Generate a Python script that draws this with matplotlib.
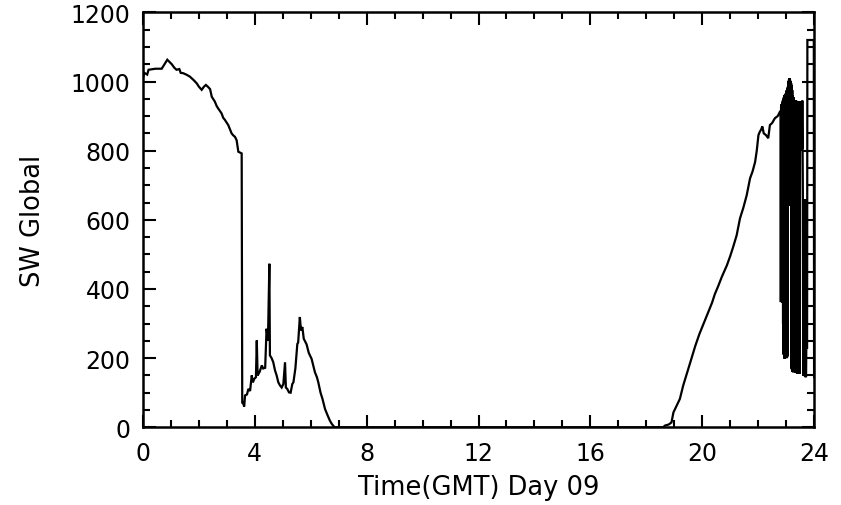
import matplotlib
matplotlib.use("Agg")
import matplotlib.pyplot as plt
from matplotlib.ticker import MultipleLocator

# Time (hours GMT) and SW Global values
time_morning = [0.00, 0.05, 0.15, 0.20, 0.45, 0.67, 0.87, 1.03, 1.12, 1.20, 1.30, 1.35,
                1.44, 1.55, 1.68, 1.80, 1.92, 2.00, 2.10, 2.18, 2.25, 2.32, 2.40, 2.46,
                2.57, 2.63, 2.69, 2.81, 2.87, 2.93, 3.00, 3.05, 3.17, 3.22, 3.29, 3.35,
                3.41, 3.53]
sw_morning = [1010, 1025, 1020, 1034, 1037, 1037, 1063, 1050, 1040, 1034, 1036, 1025,
              1024, 1020, 1014, 1005, 995, 985, 976, 985, 990, 985, 978, 956,
              942, 930, 922, 908, 895, 889, 880, 874, 850, 845, 840, 830,
              797, 792]

time_cloudy = [3.55, 3.57, 3.62, 3.65, 3.72, 3.77, 3.83, 3.89, 3.93, 3.98, 4.04, 4.07,
               4.10, 4.17, 4.25, 4.30, 4.37, 4.42, 4.47, 4.52, 4.54, 4.60, 4.66, 4.72,
               4.78, 4.84, 4.90, 4.96, 5.02, 5.08, 5.11, 5.16, 5.22, 5.28, 5.34, 5.38,
               5.45, 5.52, 5.55, 5.61, 5.65, 5.70, 5.75, 5.85, 5.93, 6.03, 6.10, 6.15,
               6.22, 6.27, 6.35, 6.42, 6.51, 6.60, 6.68, 6.75, 6.85]
sw_cloudy = [72, 72, 60, 92, 95, 111, 105, 150, 130, 140, 145, 251,
             150, 160, 179, 170, 172, 285, 250, 473, 208, 200, 188, 165,
             150, 130, 121, 115, 125, 188, 115, 111, 101, 100, 125, 130,
             170, 241, 245, 319, 280, 290, 256, 240, 215, 198, 175, 159,
             145, 130, 100, 82, 53, 35, 20, 10, 0]

time_night = [18.60]
sw_night = [0]

time_rise = [18.67, 18.80, 18.90, 18.97, 19.09, 19.20, 19.32, 19.45, 19.60, 19.75,
             19.90, 20.05, 20.20, 20.35, 20.45, 20.58, 20.70, 20.88, 21.00, 21.10,
             21.23, 21.35, 21.47, 21.59, 21.71, 21.80, 21.89, 21.95, 22.01, 22.06,
             22.10, 22.15, 22.20, 22.28, 22.36, 22.42, 22.50, 22.60, 22.70, 22.78]
sw_rise = [5, 8, 14, 43, 63, 82, 121, 155, 195, 235,
           270, 300, 330, 360, 385, 410, 435, 468, 495, 520,
           555, 604, 635, 671, 720, 740, 767, 800, 845, 855,
           860, 870, 850, 845, 836, 874, 880, 894, 900, 913]

time_broken = [22.80, 22.81, 22.82, 22.83, 22.84, 22.85, 22.86, 22.87, 22.88, 22.89,
               22.90, 22.91, 22.92, 22.93, 22.94, 22.95, 22.96, 22.97, 22.98, 22.99,
               23.00, 23.01, 23.02, 23.03, 23.04, 23.05, 23.06, 23.07, 23.08, 23.09,
               23.10, 23.11, 23.12, 23.13, 23.14, 23.15, 23.16, 23.17, 23.18, 23.19,
               23.20, 23.21, 23.22, 23.23, 23.24, 23.25, 23.26, 23.27, 23.28, 23.29,
               23.30, 23.31, 23.32, 23.33, 23.34, 23.35, 23.36, 23.37, 23.38, 23.39,
               23.40, 23.41, 23.42, 23.43, 23.44, 23.45, 23.46, 23.47, 23.48, 23.49,
               23.50, 23.51, 23.52, 23.53, 23.54, 23.55, 23.56, 23.57, 23.58, 23.59,
               23.60, 23.61, 23.62, 23.63, 23.64, 23.65, 23.66, 23.67, 23.68, 23.69,
               23.70, 23.71, 23.72, 23.75, 23.76, 23.99, 24.00]
sw_broken = [913, 362, 930, 370, 935, 365, 940, 360, 945, 300,
             950, 210, 955, 200, 960, 198, 962, 200, 965, 205,
             971, 210, 975, 200, 980, 205, 985, 640, 1000, 640,
             1005, 640, 1010, 640, 1005, 640, 1000, 640, 995, 170,
             990, 165, 975, 160, 960, 159, 955, 160, 945, 162,
             942, 160, 942, 158, 945, 160, 945, 158, 942, 155,
             940, 155, 942, 160, 942, 158, 940, 160, 940, 155,
             943, 800, 940, 805, 942, 800, 940, 805, 945, 800,
             650, 150, 655, 150, 650, 148, 655, 150, 660, 145,
             650, 145, 230, 230, 1120, 1120, 145]

time = time_morning + time_cloudy + time_night + time_rise + time_broken
sw = sw_morning + sw_cloudy + sw_night + sw_rise + sw_broken

x_ticks = [0, 4, 8, 12, 16, 20, 24]
y_ticks = [0, 200, 400, 600, 800, 1000, 1200]

plt.rcParams['font.family'] = ['DejaVu Sans']

fig = plt.figure(figsize=(8.41, 5.06), dpi=100)
ax = fig.add_axes([0.170, 0.1536, 0.798, 0.820])
ax.plot(time, sw, color='black', linewidth=1.6, solid_joinstyle='miter')

ax.set_xlim(0, 24)
ax.set_ylim(0, 1200)
ax.set_xticks(x_ticks)
ax.set_yticks(y_ticks)
ax.xaxis.set_minor_locator(MultipleLocator(1))
ax.yaxis.set_minor_locator(MultipleLocator(50))
ax.tick_params(which='both', direction='in', top=True, right=True,
               width=1.5, labelsize=17, colors='black')
ax.tick_params(which='major', length=9)
ax.tick_params(which='minor', length=5)
ax.tick_params(axis='x', which='major', pad=10)
ax.tick_params(axis='y', which='major', pad=9)
for s in ax.spines.values():
    s.set_linewidth(1.8)

ax.set_xlabel('Time(GMT) Day 09', fontsize=18.5, labelpad=6)
ax.set_ylabel('SW Global', fontsize=18.5, labelpad=18)

fig.savefig('out.png', dpi=100)
